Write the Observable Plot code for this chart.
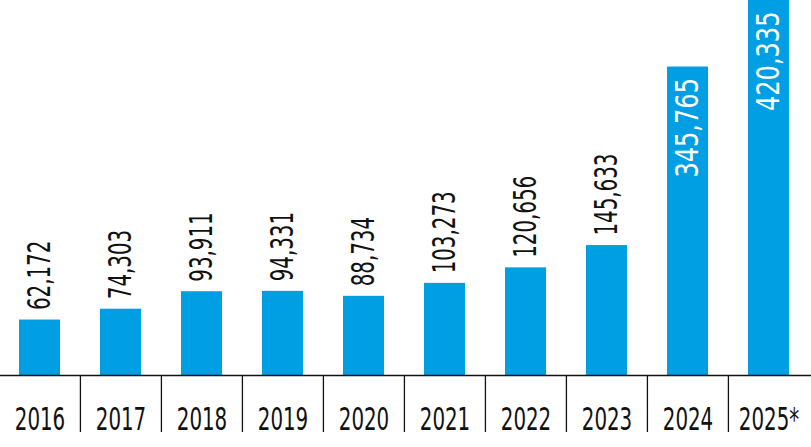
<!DOCTYPE html>
<html>
<head>
<meta charset="utf-8">
<script src="https://cdn.jsdelivr.net/npm/d3@7"></script>
<script src="https://cdn.jsdelivr.net/npm/@observablehq/plot@0.6"></script>
<style>
  html, body { margin: 0; padding: 0; background: #fff; }
  svg { display: block; }
</style>
</head>
<body>
<div id="chart"></div>
<script>
const years = ["2016", "2017", "2018", "2019", "2020", "2021", "2022", "2023", "2024", "2025*"];
const values = [62172, 74303, 93911, 94331, 88734, 103273, 120656, 145633, 345765, 420335];
const insideThreshold = 300000;

const data = years.map((year, i) => ({year, value: values[i], label: d3.format(",")(values[i])}));

const barColor = "#009fe3";
const fontFamily = "'DejaVu Sans Condensed', 'DejaVu Sans', sans-serif";
const squeeze = 0.70;
const squeezeInside = 0.85;

const W = 811, H = 447, MB = 72;
const xOptions = {domain: years, range: [0, 807.5], paddingInner: 0.5, paddingOuter: 0.224};
const xScale = Plot.scale({x: {type: "band", ...xOptions}});

const plot = Plot.plot({
  width: W,
  height: H,
  marginTop: 0,
  marginBottom: MB,
  marginLeft: 0,
  marginRight: 0,
  style: {fontFamily, background: "#fff"},
  x: {...xOptions, axis: null},
  y: {domain: [0, d3.max(values)], axis: null},
  marks: [
    Plot.barY(data, {x: "year", y: "value", fill: barColor}),
    Plot.ruleY([0], {stroke: "#111", strokeWidth: 1.3}),
    Plot.ruleX(years.slice(1), {
      x: d => d, dx: -xScale.step / 2,
      insetTop: H - MB, insetBottom: -57,
      stroke: "#111", strokeWidth: 1.3
    }),
    Plot.text(data.filter(d => d.value < insideThreshold), {
      x: "year", y: "value", text: "label", rotate: -90,
      textAnchor: "start", dy: -10, fontSize: 31.5, fill: "#111"
    }),
    Plot.text(data.filter(d => d.value >= insideThreshold), {
      x: "year", y: "value", text: "label", rotate: -90,
      textAnchor: "end", dy: 11, fontSize: 31.5, fill: "#fff"
    }),
    Plot.text(years, {x: d => d, text: d => d, frameAnchor: "bottom", lineAnchor: "top", dy: 32, fontSize: 31.5, fill: "#111"})
  ]
});

document.getElementById("chart").appendChild(plot);

// condense all texts to mimic the narrow typeface
d3.select(plot).selectAll("text").each(function() {
  const len = this.getComputedTextLength();
  if (len > 0) {
    const white = getComputedStyle(this).fill === "rgb(255, 255, 255)";
    this.setAttribute("textLength", len * (white ? squeezeInside : squeeze));
    this.setAttribute("lengthAdjust", "spacingAndGlyphs");
  }
});
</script>
</body>
</html>
